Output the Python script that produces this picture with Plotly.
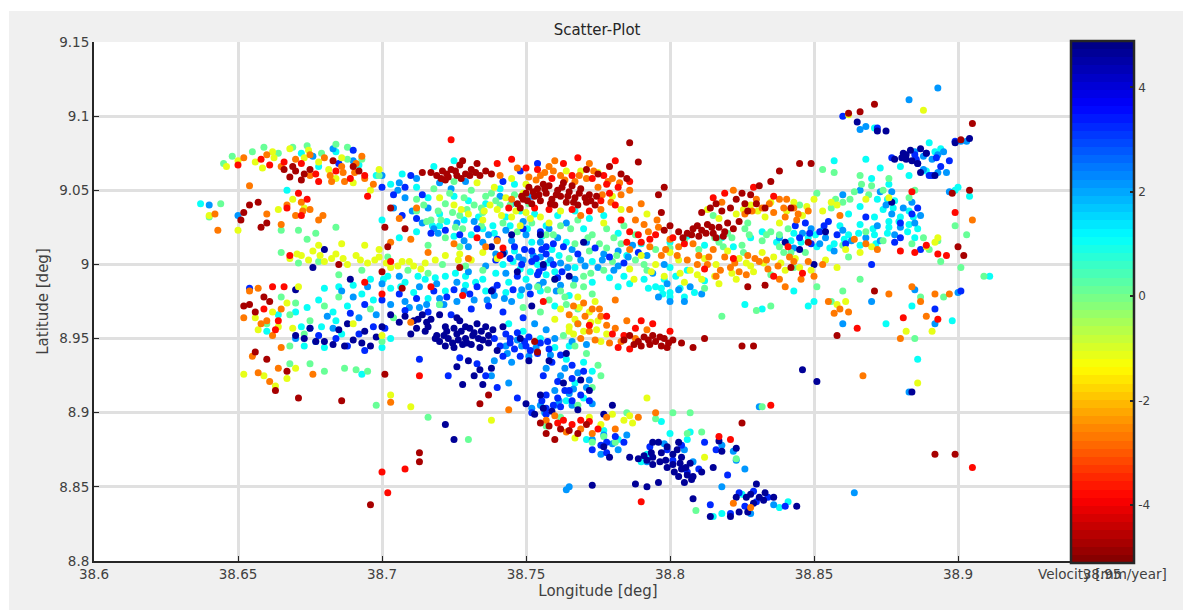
import plotly.graph_objects as go

title_text = "Scatter-Plot"
x_label = "Longitude [deg]"
y_label = "Latitude [deg]"
cbar_label = "Velocity [mm/year]"
x_ticks = [38.6, 38.65, 38.7, 38.75, 38.8, 38.85, 38.9, 38.95]
x_tick_labels = ["38.6", "38.65", "38.7", "38.75", "38.8", "38.85", "38.9", "38.95"]
y_ticks = [8.8, 8.85, 8.9, 8.95, 9.0, 9.05, 9.1, 9.15]
y_tick_labels = ["8.8", "8.85", "8.9", "8.95", "9", "9.05", "9.1", "9.15"]
cbar_ticks = [-4, -2, 0, 2, 4]

dark_red = [
(38.719,9.060),(38.721,9.063),(38.723,9.059),(38.724,9.064),(38.726,9.060),(38.727,9.067),(38.729,9.061),(38.731,9.064),(38.733,9.068),(38.734,9.060),(38.736,9.063),(38.738,9.061),(38.728,9.070),(38.722,9.057),(38.717,9.062),
(38.747,9.041),(38.749,9.044),(38.750,9.048),(38.752,9.041),(38.753,9.046),(38.754,9.051),(38.755,9.043),(38.757,9.048),(38.758,9.053),(38.759,9.044),(38.760,9.040),(38.761,9.050),(38.762,9.046),(38.763,9.055),(38.764,9.042),(38.765,9.049),(38.766,9.053),(38.767,9.045),(38.768,9.040),(38.769,9.051),(38.771,9.042),(38.772,9.047),(38.774,9.040),(38.756,9.054),(38.748,9.038),(38.751,9.052),(38.775,9.061),(38.771,9.064),(38.779,9.066),(38.783,9.061),(38.785,9.058),
(38.668,9.059),(38.670,9.063),(38.672,9.057),(38.673,9.061),(38.669,9.066),(38.675,9.064),(38.666,9.064),(38.683,9.070),(38.690,9.066),(38.692,9.063),
(38.806,9.021),(38.808,9.024),(38.810,9.019),(38.811,9.023),(38.813,9.027),(38.815,9.021),(38.816,9.018),(38.817,9.025),(38.819,9.022),(38.820,9.028),(38.803,9.022),(38.800,9.026),(38.798,9.023),(38.822,9.024),(38.824,9.029),
(38.811,9.035),(38.814,9.038),(38.816,9.041),(38.818,9.036),(38.821,9.038),(38.823,9.044),(38.826,9.041),(38.828,9.047),(38.830,9.041),(38.825,9.048),(38.827,9.036),(38.833,9.038),(38.831,9.053),(38.835,9.056),
(38.784,8.949),(38.786,8.952),(38.789,8.948),(38.790,8.945),(38.791,8.951),(38.793,8.946),(38.794,8.952),(38.795,8.948),(38.797,8.945),(38.798,8.950),(38.799,8.944),(38.801,8.949),(38.804,8.947),(38.808,8.944),(38.812,8.950),(38.825,8.945),(38.829,8.945),
(38.786,9.082),(38.789,9.069),(38.798,9.052),(38.796,9.047),(38.797,9.035),(38.838,9.063),(38.845,9.068),(38.849,9.068),(38.862,9.102),(38.866,9.103),(38.871,9.108),(38.905,9.095),(38.901,9.084),(38.904,9.050),(38.898,9.048),(38.900,9.012),(38.902,9.006),
(38.765,8.888),(38.762,8.889),(38.758,8.891),(38.755,8.893),(38.757,8.886),(38.760,8.882),(38.768,8.886),(38.771,8.892),(38.696,8.838),(38.713,8.873),(38.713,8.867),(38.737,8.912),(38.734,8.906),(38.753,8.948),(38.754,8.941),
(38.656,8.968),(38.654,8.973),(38.652,8.972),(38.659,8.978),(38.661,8.975),(38.651,9.030),(38.652,9.035),(38.657,9.042),(38.660,9.028),(38.658,9.025),(38.654,9.040),(38.656,8.941),(38.660,8.936),(38.663,8.915),(38.671,8.910),(38.686,8.908),(38.667,8.928),
(38.702,9.012),(38.708,9.024),(38.714,9.062),(38.703,9.038),(38.701,9.025),(38.685,9.000),(38.700,8.995),(38.707,8.984),(38.727,8.998),(38.701,8.926),(38.825,8.893),(38.899,8.872),(38.892,8.872),(38.842,9.038),(38.871,8.982),(38.858,8.952),(38.842,8.998),(38.833,8.986),(38.827,8.985),(38.848,9.015),
(38.7485,9.046),(38.7505,9.043),(38.7525,9.049),(38.7545,9.047),(38.7565,9.051),(38.7585,9.041),(38.7605,9.047),(38.7625,9.052),(38.7645,9.046),(38.7665,9.042),(38.7685,9.048),(38.7705,9.045),(38.7725,9.043),(38.7745,9.046),(38.7205,9.058),(38.7225,9.061),(38.7255,9.063),(38.7275,9.058),(38.7305,9.060),(38.7325,9.062),(38.8045,9.018),(38.8075,9.020),(38.8095,9.026),(38.8125,9.021),(38.8145,9.025),(38.8185,9.019),(38.7875,8.946),(38.7925,8.949),(38.7965,8.951),(38.7995,8.947),
]
red = [
(38.724,9.084),(38.695,9.046),(38.703,9.002),(38.668,9.006),(38.700,8.860),(38.708,8.862),(38.713,8.925),(38.702,8.846),(38.790,8.840),(38.865,8.957),(38.881,8.964),(38.893,8.963),(38.885,9.008),(38.880,9.009),(38.889,9.013),(38.893,9.007),(38.896,9.006),(38.884,9.049),(38.905,8.863),(38.899,9.035),
(38.740,9.068),(38.745,9.071),(38.750,9.065),(38.754,9.064),(38.759,9.058),(38.763,9.068),(38.768,9.072),(38.773,9.058),(38.778,9.054),(38.781,9.070),(38.786,9.056),(38.777,9.060),(38.766,9.060),(38.782,9.052),
(38.744,9.038),(38.753,9.038),(38.758,9.037),(38.766,9.037),(38.772,9.036),(38.776,9.043),(38.779,9.048),(38.781,9.040),
(38.658,9.071),(38.661,9.067),(38.666,9.069),(38.672,9.068),(38.677,9.061),(38.684,9.063),(38.689,9.058),(38.694,9.060),(38.678,9.056),(38.650,9.067),
(38.671,9.048),(38.674,9.044),(38.667,9.038),(38.672,9.033),(38.662,8.985),(38.659,8.970),(38.664,8.962),(38.663,8.956),(38.666,8.985),
(38.733,9.018),(38.742,9.011),(38.741,9.006),(38.694,8.988),(38.700,8.980),(38.717,8.985),(38.728,8.979),
(38.795,9.020),(38.793,9.017),(38.789,9.020),(38.786,9.022),(38.783,9.030),(38.790,9.015),(38.801,9.018),(38.785,9.015),(38.805,9.014),(38.812,8.997),(38.822,9.004),(38.815,9.045),(38.819,9.048),(38.829,9.052),(38.836,9.046),(38.841,9.012),(38.846,8.994),(38.836,8.992),
(38.763,8.895),(38.766,8.892),(38.769,8.895),(38.761,8.893),(38.772,8.894),(38.775,8.889),(38.784,8.952),(38.782,8.944),(38.788,8.957),(38.780,8.953),(38.786,8.943),(38.794,8.960),(38.800,8.955),(38.790,8.962),(38.772,8.959),(38.778,8.965),(38.756,8.975),(38.835,8.905),(38.821,8.882),(38.817,8.884),
]
orange = [
(38.652,9.072),(38.660,9.074),(38.665,9.066),(38.670,9.071),(38.675,9.074),(38.680,9.072),(38.686,9.066),(38.691,9.068),(38.694,9.058),(38.687,9.056),(38.682,9.060),(38.693,9.073),(38.675,9.060),(38.697,9.054),
(38.667,9.040),(38.672,9.042),(38.675,9.037),(38.670,9.033),(38.678,9.030),(38.665,9.027),(38.642,9.034),(38.643,9.023),(38.654,9.053),(38.660,9.034),(38.703,9.015),(38.710,9.017),(38.716,9.008),(38.725,9.014),(38.730,9.004),(38.736,9.012),(38.740,9.016),(38.706,9.031),(38.712,9.038),
(38.654,8.982),(38.657,8.984),(38.660,8.962),(38.665,8.970),(38.658,8.960),(38.662,8.952),(38.655,8.938),(38.657,8.927),(38.661,8.921),(38.664,8.930),(38.652,8.964),(38.665,8.944),(38.676,8.926),(38.710,8.961),(38.703,8.907),(38.744,8.902),
(38.745,9.044),(38.751,9.059),(38.755,9.060),(38.758,9.066),(38.762,9.060),(38.767,9.056),(38.771,9.058),(38.775,9.052),(38.780,9.058),(38.783,9.047),(38.786,9.050),(38.760,9.070),(38.747,9.065),(38.741,9.060),(38.772,9.068),(38.786,9.037),(38.790,9.041),(38.788,9.030),(38.776,9.037),(38.769,9.033),
(38.770,8.974),(38.773,8.970),(38.776,8.965),(38.765,8.966),(38.768,8.960),(38.772,8.955),(38.778,8.959),(38.774,8.949),(38.769,8.950),(38.781,8.976),
(38.783,8.948),(38.788,8.950),(38.781,8.957),(38.785,8.962),(38.779,8.947),(38.792,8.956),
(38.791,9.027),(38.796,9.025),(38.800,9.017),(38.793,9.012),(38.797,9.006),(38.786,9.010),(38.803,9.012),(38.808,9.014),(38.806,9.003),(38.810,9.006),(38.813,9.000),(38.816,8.992),(38.819,9.005),(38.821,8.998),(38.824,8.995),(38.815,9.010),(38.827,9.006),(38.831,9.002),(38.834,8.997),(38.838,8.990),(38.843,9.002),(38.848,9.002),(38.850,8.992),(38.853,9.000),(38.830,9.044),(38.826,9.034),(38.832,9.038),(38.836,9.035),(38.840,9.032),(38.844,9.030),(38.838,9.044),(38.843,9.038),(38.848,9.036),(38.822,9.050),(38.818,9.042),(38.859,9.033),(38.864,9.017),(38.868,9.014),(38.872,9.010),
(38.760,8.898),(38.764,8.887),(38.769,8.889),(38.773,8.886),(38.778,8.897),(38.781,8.889),(38.757,8.895),(38.789,8.897),(38.840,8.985),(38.855,8.975),(38.859,8.970),(38.862,8.968),(38.857,8.967),(38.876,8.980),(38.880,8.950),(38.884,8.985),(38.887,8.975),(38.892,8.980),(38.889,8.965),(38.905,9.030),(38.897,8.980),(38.867,8.925),(38.828,8.836),(38.822,8.839),(38.795,8.900),
(38.7535,9.057),(38.7565,9.062),(38.7595,9.063),(38.7635,9.057),(38.7685,9.060),(38.7735,9.063),(38.7785,9.056),(38.7825,9.055),(38.7765,9.047),(38.7795,9.042),(38.8095,9.000),(38.8135,9.005),(38.8175,8.996),(38.8225,9.001),(38.8265,8.993),(38.8295,9.004),(38.8335,9.003),(38.8375,8.999),(38.8415,9.005),(38.8455,8.990),(38.8285,9.036),(38.8345,9.041),(38.8395,9.038),(38.8445,9.034),(38.8405,9.044),(38.7925,9.022),(38.7955,9.030),(38.7985,9.010),(38.8025,9.006),(38.7755,8.970),(38.7705,8.965),(38.7665,8.972),(38.6825,9.056),(38.6865,9.062),(38.6905,9.062),(38.6725,9.036),(38.6795,9.033),
]
yellow = [
(38.650,9.070),(38.656,9.069),(38.662,9.076),(38.668,9.078),(38.673,9.072),(38.678,9.069),(38.684,9.058),(38.690,9.055),(38.696,9.050),(38.699,9.064),(38.686,9.072),(38.646,9.066),(38.640,9.033),(38.650,9.023),(38.673,9.038),(38.669,9.044),(38.664,9.037),
(38.668,9.004),(38.672,9.006),(38.676,9.009),(38.680,9.002),(38.684,9.007),(38.688,9.000),(38.691,9.006),(38.695,9.001),(38.699,9.005),(38.703,8.998),(38.707,9.002),(38.711,8.999),(38.715,9.001),(38.722,9.006),(38.727,9.007),(38.731,9.003),(38.735,9.008),(38.740,9.004),(38.694,9.013),(38.699,9.010),(38.678,9.013),(38.686,9.014),
(38.656,8.964),(38.662,8.968),(38.667,8.974),(38.664,8.958),(38.669,8.957),(38.657,8.956),(38.652,8.926),(38.659,8.925),(38.663,8.918),(38.667,8.923),(38.670,8.930),(38.690,8.960),(38.700,8.952),(38.703,8.912),(38.710,8.904),(38.738,8.895),(38.671,8.985),
(38.735,9.030),(38.740,9.037),(38.745,9.032),(38.750,9.035),(38.755,9.032),(38.748,9.026),(38.758,9.028),(38.762,9.036),(38.743,9.045),(38.749,9.048),(38.725,9.040),(38.730,9.034),(38.720,9.045),(38.764,9.063),(38.775,9.062),(38.769,9.063),(38.745,9.058),(38.750,9.054),(38.739,9.052),(38.733,9.055),(38.780,9.046),(38.783,9.037),(38.777,9.028),(38.792,9.034),
(38.768,8.978),(38.772,8.968),(38.775,8.962),(38.767,8.963),(38.770,8.955),(38.765,8.958),(38.778,8.953),(38.762,8.970),(38.774,8.975),(38.760,8.963),(38.776,8.948),
(38.786,8.997),(38.790,9.006),(38.795,9.000),(38.800,9.008),(38.803,9.003),(38.807,8.996),(38.812,9.004),(38.816,9.000),(38.820,9.009),(38.824,9.004),(38.828,8.999),(38.832,9.008),(38.836,9.005),(38.840,8.996),(38.845,8.998),(38.849,8.996),(38.854,9.003),(38.858,8.998),(38.805,8.988),(38.811,8.990),(38.817,8.987),(38.823,8.990),(38.829,8.995),(38.798,8.992),
(38.823,9.034),(38.828,9.040),(38.833,9.032),(38.838,9.028),(38.843,9.042),(38.846,9.033),(38.850,9.044),(38.853,9.036),(38.835,9.042),(38.817,9.031),(38.813,9.037),(38.856,9.042),(38.861,9.010),(38.866,9.008),(38.870,9.012),(38.858,9.040),(38.858,8.973),(38.861,8.975),
(38.772,8.897),(38.776,8.892),(38.780,8.899),(38.784,8.895),(38.787,8.893),(38.786,8.898),(38.767,8.883),(38.812,8.870),(38.765,8.955),(38.792,8.910),(38.886,8.920),(38.882,8.955),(38.891,8.955),(38.888,9.104),(38.889,9.012),(38.893,9.018),(38.892,9.015),(38.876,9.045),(38.862,9.101),(38.868,9.044),
(38.6705,9.007),(38.6745,9.003),(38.6785,9.006),(38.6825,9.004),(38.6865,9.004),(38.6925,9.003),(38.6975,9.003),(38.7015,9.001),(38.7055,8.999),(38.7095,9.002),(38.7135,8.997),(38.7185,9.003),(38.7265,9.003),(38.7355,9.036),(38.7415,9.033),(38.7465,9.036),(38.7515,9.031),(38.7375,9.040),(38.7275,9.037),(38.8035,8.994),(38.8095,8.993),(38.8155,8.992),(38.8215,8.994),(38.8265,9.001),(38.8325,9.001),(38.8385,9.001),(38.8435,9.004),(38.8255,9.037),(38.8305,9.036),(38.8405,9.036),(38.8475,9.039),(38.7685,8.971),(38.7725,8.961),(38.7665,8.953),(38.7745,8.956),(38.7875,8.990),(38.7935,8.995),(38.6585,9.065),(38.6625,9.072),(38.6745,9.077),(38.6815,9.064),
]
green = [
(38.655,9.076),(38.659,9.079),(38.664,9.075),(38.669,9.079),(38.674,9.080),(38.679,9.075),(38.684,9.081),(38.688,9.079),(38.693,9.071),(38.699,9.060),(38.645,9.068),(38.648,9.073),(38.688,9.071),(38.640,9.032),(38.644,9.041),
(38.665,9.023),(38.671,9.023),(38.677,9.021),(38.684,9.025),(38.674,9.017),(38.665,9.008),(38.671,9.001),(38.678,9.002),(38.685,8.993),(38.693,8.996),(38.702,9.005),(38.709,8.996),(38.716,8.994),(38.721,9.000),(38.729,8.999),(38.735,8.996),(38.727,9.012),(38.716,9.013),
(38.665,8.978),(38.670,8.974),(38.668,8.966),(38.675,8.962),(38.680,8.972),(38.685,8.978),(38.673,8.953),(38.668,8.945),(38.687,8.930),(38.695,8.928),(38.691,8.929),(38.680,8.928),(38.660,8.960),(38.700,8.948),(38.668,8.933),(38.675,8.933),(38.696,8.970),(38.720,8.973),(38.704,8.964),
(38.712,9.036),(38.717,9.030),(38.722,9.041),(38.727,9.033),(38.732,9.040),(38.736,9.046),(38.741,9.040),(38.746,9.047),(38.751,9.041),(38.735,9.035),(38.742,9.028),(38.747,9.022),(38.752,9.028),(38.757,9.020),(38.762,9.026),(38.768,9.030),(38.712,9.044),(38.718,9.051),(38.725,9.056),(38.731,9.050),(38.738,9.048),(38.728,9.024),(38.722,9.018),(38.767,9.014),(38.773,9.020),(38.778,9.011),(38.783,9.014),(38.788,9.020),(38.778,9.024),(38.784,9.026),(38.772,9.009),(38.765,9.004),(38.780,9.002),(38.788,9.003),(38.792,8.996),(38.777,8.996),(38.770,8.992),(38.760,8.990),(38.754,8.985),(38.762,8.982),(38.770,8.985),(38.758,8.976),(38.764,8.973),(38.755,8.968),(38.749,8.971),(38.768,8.970),(38.773,8.980),
(38.763,8.952),(38.767,8.945),(38.771,8.940),(38.775,8.932),(38.776,8.925),(38.773,8.917),(38.768,8.905),(38.762,8.897),(38.785,8.900),(38.795,8.896),(38.801,8.900),(38.807,8.900),(38.773,8.880),(38.809,8.834),
(38.800,9.011),(38.805,9.016),(38.810,9.010),(38.817,9.015),(38.825,9.013),(38.832,9.016),(38.838,9.012),(38.842,9.008),(38.847,9.008),(38.835,9.022),(38.826,9.024),(38.820,9.021),(38.841,9.024),(38.838,9.020),(38.845,9.040),(38.851,9.048),(38.856,9.038),(38.860,9.042),(38.864,9.049),(38.869,9.047),(38.874,9.050),(38.827,9.028),(38.815,9.033),(38.870,9.053),(38.857,9.062),(38.853,9.064),(38.866,9.060),(38.876,9.058),(38.885,9.050),(38.860,9.013),(38.868,9.022),(38.874,9.016),(38.862,9.005),(38.856,8.975),(38.851,8.985),(38.860,8.982),(38.866,8.990),(38.835,8.972),(38.830,8.969),(38.818,8.965),(38.835,8.993),(38.812,8.984),(38.795,9.010),(38.791,9.000),
(38.884,9.014),(38.888,9.018),(38.890,9.010),(38.893,9.016),(38.899,9.026),(38.903,9.020),(38.909,8.992),(38.901,8.998),(38.887,8.978),(38.895,8.978),(38.885,8.950),(38.894,9.002),(38.843,8.998),(38.832,8.904),(38.811,8.887),(38.806,8.886),(38.823,8.869),(38.781,8.880),(38.777,8.884),(38.698,8.905),(38.716,8.897),(38.757,8.891),(38.730,8.882),(38.883,9.045),
(38.7145,9.040),(38.7195,9.036),(38.7245,9.035),(38.7295,9.037),(38.7345,9.038),(38.7395,9.043),(38.7445,9.040),(38.7495,9.045),(38.7235,9.048),(38.7285,9.045),(38.7155,9.029),(38.7205,9.030),(38.7255,9.025),(38.7345,9.026),(38.7595,9.020),(38.7655,9.024),(38.7715,9.018),(38.7755,9.014),(38.7805,9.018),(38.7815,9.006),(38.7725,8.994),(38.7665,8.986),(38.7635,8.978),(38.7575,8.983),(38.8155,9.018),(38.8215,9.018),(38.8275,9.020),(38.8335,9.020),(38.8395,9.008),(38.8255,9.008),(38.8185,9.012),(38.8575,9.044),(38.8625,9.044),(38.8665,9.054),
]
cyan = [
(38.637,9.041),(38.667,9.050),(38.672,9.075),(38.678,9.066),(38.684,9.076),(38.692,9.067),(38.698,9.060),(38.703,9.054),(38.707,9.061),(38.718,9.066),(38.725,9.070),
(38.700,9.030),(38.706,9.018),(38.712,9.022),(38.720,9.026),(38.725,9.019),(38.731,9.020),(38.712,9.052),(38.716,9.045),(38.720,9.034),(38.725,9.046),(38.730,9.043),(38.736,9.041),(38.741,9.051),(38.746,9.054),(38.743,9.032),(38.748,9.036),(38.753,9.034),(38.757,9.026),(38.761,9.033),(38.767,9.036),(38.772,9.031),(38.777,9.033),(38.782,9.021),(38.785,9.006),(38.790,9.014),(38.770,9.024),(38.764,9.015),(38.759,9.010),(38.752,9.015),(38.746,9.009),(38.739,9.021),(38.735,9.024),(38.742,9.000),(38.748,8.997),(38.754,9.000),(38.760,8.995),(38.767,8.998),(38.773,9.002),(38.779,8.991),(38.784,8.992),(38.744,8.988),(38.750,8.990),(38.757,8.993),(38.735,8.990),(38.729,8.992),(38.722,8.992),(38.715,8.990),(38.708,8.988),(38.702,8.992),(38.696,8.990),(38.690,8.986),(38.685,8.985),(38.680,8.984),(38.678,8.976),(38.683,8.968),(38.688,8.972),(38.693,8.980),(38.697,8.976),(38.703,8.984),(38.711,8.981),(38.716,8.977),(38.722,8.982),(38.729,8.986),(38.736,8.982),(38.743,8.981),(38.748,8.979),(38.755,8.982),(38.760,8.972),(38.765,8.979),(38.773,8.988),
(38.670,8.968),(38.674,8.971),(38.679,8.958),(38.684,8.962),(38.673,8.945),(38.680,8.944),(38.686,8.953),(38.664,8.966),(38.660,8.955),(38.672,8.958),(38.700,8.944),(38.703,8.950),(38.693,8.926),(38.720,8.973),
(38.744,8.960),(38.749,8.955),(38.755,8.950),(38.760,8.944),(38.764,8.936),(38.770,8.934),(38.773,8.928),(38.767,8.920),(38.770,8.910),(38.764,8.908),(38.777,8.888),(38.782,8.882),(38.771,8.882),(38.807,8.887),(38.806,8.882),(38.792,8.872),(38.800,8.886),(38.815,8.830),(38.818,8.832),(38.838,8.836),(38.841,8.840),(38.797,8.894),(38.790,8.867),(38.825,8.845),
(38.782,8.985),(38.786,8.987),(38.791,8.990),(38.798,8.990),(38.802,8.992),(38.806,8.996),(38.797,8.984),(38.800,8.981),(38.805,8.978),(38.812,8.989),(38.800,8.998),(38.795,8.985),
(38.800,9.015),(38.806,9.019),(38.812,9.013),(38.818,9.018),(38.822,9.012),(38.828,9.018),(38.832,9.022),(38.837,9.015),(38.843,9.021),(38.848,9.018),(38.853,9.023),(38.857,9.014),(38.862,9.020),(38.866,9.027),(38.871,9.020),(38.876,9.025),(38.880,9.032),(38.874,9.037),(38.878,9.043),(38.883,9.027),(38.886,9.024),(38.871,9.032),(38.866,9.013),(38.859,9.026),(38.851,9.012),(38.842,9.016),(38.862,9.034),(38.866,9.039),(38.872,9.044),(38.876,9.029),(38.883,9.036),(38.885,9.018),
(38.857,9.070),(38.868,9.071),(38.873,9.065),(38.880,9.066),(38.870,9.058),(38.876,9.054),(38.883,9.060),(38.889,9.063),(38.894,9.078),(38.890,9.082),(38.892,9.076),(38.900,9.052),(38.871,9.092),(38.899,9.050),(38.904,9.046),(38.911,8.992),(38.884,8.972),(38.898,8.962),(38.886,8.936),(38.843,8.982),(38.850,8.975),(38.875,8.960),(38.848,8.972),(38.826,8.973),(38.832,8.970),(38.768,8.960),(38.765,8.945),(38.800,8.978),
(38.7175,9.026),(38.7225,9.029),(38.7285,9.030),(38.7335,9.032),(38.7385,9.026),(38.7445,9.026),(38.7505,9.024),(38.7555,9.019),(38.7615,9.006),(38.7575,9.001),(38.7515,8.995),(38.7455,9.002),(38.7395,8.994),(38.7325,8.988),(38.7255,8.994),(38.7185,8.991),(38.7125,8.992),(38.7065,8.985),(38.7005,8.990),(38.8455,9.015),(38.8505,9.020),(38.8555,9.011),(38.8605,9.017),(38.8655,9.021),(38.8705,9.024),(38.8755,9.021),(38.8795,9.029),(38.8825,9.022),(38.8715,9.014),(38.8845,9.032),(38.8775,9.038),(38.8755,9.044),(38.8035,8.984),(38.8085,8.981),(38.7975,8.980),(38.7925,8.984),
]
sky = [
(38.683,9.078),(38.690,9.070),(38.676,9.073),(38.640,9.040),(38.650,9.033),(38.700,9.060),(38.706,9.055),(38.712,9.058),(38.708,9.045),(38.704,9.038),(38.716,9.038),(38.720,9.055),(38.724,9.051),(38.729,9.056),(38.714,9.028),(38.718,9.024),(38.726,9.028),(38.732,9.029),(38.737,9.020),(38.743,9.023),(38.749,9.029),(38.745,9.016),(38.750,9.020),(38.755,9.015),(38.761,9.018),(38.766,9.010),(38.771,9.015),(38.777,9.007),(38.782,9.009),(38.787,9.013),(38.792,9.006),(38.782,8.999),(38.775,8.998),(38.769,9.003),(38.762,9.001),(38.755,9.005),(38.749,9.003),(38.743,8.994),(38.736,8.999),(38.730,8.995),(38.726,8.988),(38.719,8.987),(38.713,8.985),(38.706,8.992),(38.700,8.987),(38.695,8.985),(38.690,8.978),(38.686,8.982),(38.681,8.965),(38.675,8.957),(38.670,8.950),(38.677,8.948),(38.683,8.957),(38.692,8.964),(38.698,8.966),(38.703,8.973),(38.708,8.975),(38.713,8.971),(38.720,8.977),(38.726,8.975),(38.732,8.976),(38.739,8.979),(38.745,8.975),(38.751,8.985),(38.756,8.988),(38.762,8.986),(38.767,8.990),(38.745,9.041),(38.752,9.046),(38.741,9.046),(38.758,9.024),(38.764,9.028),(38.735,9.015),(38.730,9.012),
(38.753,8.960),(38.747,8.949),(38.743,8.945),(38.739,8.935),(38.745,8.934),(38.751,8.938),(38.757,8.956),(38.760,8.950),(38.766,8.948),(38.771,8.946),(38.757,8.930),(38.762,8.925),(38.768,8.927),(38.772,8.922),(38.760,8.915),(38.765,8.913),(38.771,8.917),(38.755,8.905),(38.760,8.905),(38.766,8.905),(38.773,8.906),(38.752,8.903),(38.773,8.882),(38.780,8.879),(38.776,8.872),(38.785,8.885),(38.765,8.850),(38.764,8.848),(38.792,8.867),(38.798,8.879),(38.777,8.885),(38.782,8.875),(38.744,8.920),(38.738,8.925),
(38.805,8.875),(38.808,8.867),(38.822,8.874),(38.823,8.868),(38.818,8.878),(38.826,8.862),(38.818,8.850),(38.828,8.832),(38.836,8.838),(38.831,8.904),(38.864,8.846),(38.883,8.914),(38.885,8.983),(38.892,8.960),(38.900,8.981),
(38.794,8.994),(38.799,8.987),(38.803,8.983),(38.807,8.985),(38.811,8.980),(38.805,8.975),(38.800,8.975),(38.796,8.978),(38.798,9.000),(38.838,9.018),(38.843,9.011),(38.849,9.024),(38.854,9.018),(38.860,9.023),(38.846,9.021),(38.852,9.014),(38.857,9.009),(38.863,9.016),(38.868,9.018),(38.873,9.016),(38.878,9.020),(38.880,9.025),(38.885,9.028),(38.887,9.033),(38.881,9.038),(38.875,9.040),(38.872,9.026),(38.877,9.034),(38.884,9.042),(38.873,9.049),(38.877,9.049),(38.860,9.047),(38.866,9.050),
(38.885,9.076),(38.888,9.073),(38.891,9.071),(38.893,9.074),(38.895,9.076),(38.888,9.064),(38.893,9.062),(38.896,9.062),(38.901,9.083),(38.893,9.119),(38.883,9.111),(38.866,9.091),(38.868,9.093),(38.897,9.049),(38.903,9.083),(38.870,8.975),(38.860,8.960),
(38.7425,9.008),(38.7475,9.005),(38.7525,9.006),(38.7585,9.003),(38.7645,8.998),(38.7705,8.999),(38.7765,9.003),(38.7805,8.996),(38.7855,9.005),(38.7395,9.007),(38.7485,8.983),(38.7545,8.986),(38.7605,8.982),(38.7425,8.977),(38.7365,8.976),(38.7285,8.982),(38.7215,8.973),(38.7155,8.973),(38.7095,8.971),(38.7435,8.940),(38.7485,8.945),(38.7535,8.944),(38.7585,8.939),(38.7635,8.930),(38.7665,8.916),(38.7615,8.908),(38.7565,8.900),(38.7055,9.050),(38.7105,9.036),(38.7195,9.021),(38.7285,9.016),
]
blue = [
(38.654,8.984),(38.690,9.077),(38.685,9.068),(38.700,9.052),(38.704,9.047),(38.708,9.052),(38.710,9.060),(38.714,9.047),(38.707,9.033),(38.712,9.031),(38.717,9.021),(38.722,9.023),(38.727,9.020),(38.733,9.024),(38.740,9.017),(38.746,9.012),(38.752,9.009),(38.757,9.007),(38.763,9.012),(38.768,9.007),(38.774,9.011),(38.779,9.005),(38.784,9.001),(38.789,9.008),(38.756,8.998),(38.761,8.991),(38.747,8.992),(38.740,8.986),(38.733,8.985),(38.725,8.983),(38.718,8.982),(38.712,8.977),(38.706,8.980),(38.700,8.976),(38.694,8.973),(38.689,8.967),(38.684,8.950),(38.678,8.952),(38.688,8.945),(38.692,8.953),(38.697,8.958),(38.694,8.942),(38.701,8.957),(38.708,8.969),(38.716,8.968),(38.724,8.966),(38.731,8.970),(38.737,8.972),(38.742,8.968),(38.749,8.964),(38.754,8.993),(38.752,9.002),(38.757,9.012),(38.749,9.024),(38.755,9.022),(38.742,9.056),(38.748,9.063),(38.754,9.068),
(38.739,8.950),(38.743,8.953),(38.747,8.954),(38.751,8.951),(38.755,8.947),(38.741,8.945),(38.746,8.943),(38.750,8.945),(38.754,8.940),(38.758,8.943),(38.762,8.939),(38.742,8.938),(38.748,8.938),(38.759,8.934),(38.766,8.932),(38.770,8.928),(38.756,8.925),(38.761,8.921),(38.766,8.923),(38.757,8.912),(38.761,8.910),(38.765,8.915),(38.769,8.912),(38.772,8.908),(38.752,8.900),(38.757,8.903),(38.762,8.904),(38.757,8.899),(38.766,8.908),(38.713,8.936),(38.723,8.925),(38.727,8.937),(38.733,8.933),(38.736,8.925),(38.740,8.917),(38.747,8.910),
(38.778,8.880),(38.781,8.884),(38.784,8.880),(38.776,8.878),(38.773,8.875),(38.778,8.873),(38.793,8.877),(38.799,8.875),(38.804,8.878),(38.812,8.880),(38.816,8.875),(38.801,8.868),(38.806,8.860),(38.810,8.862),(38.820,8.858),(38.830,8.840),(38.826,8.837),(38.834,8.843),(38.824,8.846),(38.821,8.832),(38.840,8.837),(38.829,8.847),(38.814,8.838),
(38.847,9.028),(38.852,9.022),(38.858,9.020),(38.855,9.029),(38.849,9.014),(38.845,9.018),(38.861,9.014),(38.884,9.034),(38.880,9.028),(38.878,9.015),(38.868,9.032),(38.886,9.038),(38.880,9.018),(38.885,9.074),(38.889,9.075),(38.886,9.068),(38.890,9.060),(38.894,9.066),(38.891,9.060),(38.897,9.070),(38.899,9.083),(38.872,9.092),(38.887,9.010),(38.870,9.000),(38.901,8.982),(38.892,8.970),(38.877,9.072),(38.860,9.100),
(38.7485,9.000),(38.7535,9.004),(38.7595,9.000),(38.7625,8.995),(38.7545,8.995),(38.7495,9.010),(38.7555,9.010),(38.7595,9.014),(38.7445,9.004),(38.7395,9.003),(38.7455,8.983),(38.7515,8.980),(38.7385,8.983),(38.7305,8.980),(38.7225,8.978),(38.7445,8.950),(38.7495,8.948),(38.7515,8.942),(38.7445,8.947),(38.7575,8.948),(38.7635,8.915),(38.7595,8.905),(38.7555,8.908),(38.8485,9.021),(38.8535,9.026),(38.8435,9.026),(38.8855,9.071),(38.8925,9.072),
]
navy = [
(38.708,8.965),(38.711,8.962),(38.714,8.966),(38.717,8.963),(38.720,8.966),(38.712,8.957),(38.715,8.955),(38.710,8.953),(38.706,8.961),(38.703,8.966),(38.726,8.964),(38.722,8.958),(38.719,8.952),(38.723,8.950),(38.726,8.953),(38.729,8.950),(38.732,8.954),(38.735,8.949),(38.722,8.945),(38.725,8.944),(38.728,8.946),(38.731,8.946),(38.734,8.944),(38.737,8.952),(38.729,8.958),(38.725,8.957),(38.733,8.960),(38.736,8.958),(38.727,8.962),(38.740,8.942),(38.737,8.947),(38.742,8.958),(38.720,8.948),(38.716,8.958),
(38.670,8.952),(38.673,8.950),(38.677,8.948),(38.680,8.948),(38.683,8.946),(38.687,8.945),(38.690,8.949),(38.693,8.947),(38.696,8.945),(38.698,8.951),(38.685,8.956),(38.688,8.960),(38.694,8.955),(38.670,8.983),(38.676,8.998),(38.680,9.010),(38.689,8.990),(38.675,8.957),(38.700,8.958),
(38.730,8.935),(38.734,8.929),(38.732,8.925),(38.735,8.919),(38.728,8.919),(38.726,8.931),(38.738,8.930),(38.725,8.882),(38.722,8.892),(38.738,8.982),(38.760,8.990),(38.752,8.972),(38.747,8.995),(38.742,9.007),(38.738,9.012),(38.765,8.992),(38.756,9.000),(38.770,9.015),(38.745,9.020),(38.755,9.020),
(38.755,8.912),(38.750,8.906),(38.753,8.899),(38.756,8.903),(38.759,8.901),(38.763,8.920),(38.758,8.935),(38.764,8.940),(38.769,8.922),(38.772,8.915),(38.777,8.899),(38.780,8.905),(38.748,8.950),(38.751,8.935),(38.768,8.902),
(38.777,8.877),(38.779,8.870),(38.786,8.870),(38.789,8.869),(38.792,8.868),(38.794,8.870),(38.797,8.873),(38.794,8.865),(38.791,8.871),(38.799,8.877),(38.803,8.880),(38.796,8.880),(38.801,8.865),(38.804,8.862),(38.807,8.866),(38.799,8.863),(38.804,8.870),(38.801,8.872),(38.806,8.858),(38.808,8.857),(38.811,8.860),(38.803,8.857),(38.805,8.853),(38.796,8.853),(38.792,8.850),(38.788,8.852),(38.815,8.863),(38.818,8.874),(38.808,8.842),(38.814,8.830),(38.773,8.851),(38.794,8.880),
(38.828,8.845),(38.831,8.843),(38.833,8.846),(38.836,8.843),(38.829,8.839),(38.823,8.843),(38.824,8.833),(38.827,8.833),(38.821,8.830),(38.844,8.837),(38.823,8.876),(38.830,8.852),(38.817,8.881),(38.846,8.929),(38.851,8.921),(38.884,8.914),(38.854,9.022),(38.850,9.000),
(38.878,9.071),(38.882,9.074),(38.884,9.070),(38.887,9.078),(38.889,9.075),(38.886,9.068),(38.881,9.075),(38.887,9.062),(38.892,9.060),(38.899,9.082),(38.904,9.085),(38.865,9.096),(38.872,9.090),(38.875,9.090),(38.882,9.071),(38.845,9.010),(38.840,9.015),(38.877,9.042),
(38.7215,8.952),(38.7245,8.947),(38.7265,8.949),(38.7295,8.947),(38.7315,8.952),(38.7335,8.950),(38.7225,8.955),(38.7275,8.955),(38.7305,8.957),(38.7345,8.955),(38.7185,8.950),(38.7385,8.956),(38.7125,8.963),(38.7155,8.961),(38.7985,8.868),(38.8015,8.860),(38.8035,8.866),(38.8055,8.863),(38.8075,8.855),(38.8025,8.875),(38.7965,8.867),(38.7935,8.873),(38.8805,9.072),(38.8835,9.077),(38.8265,8.843),(38.8325,8.841),
]

class_values = [-4.7, -3.7, -2.6, -1.1, 0.1, 1.1, 2.1, 3.3, 4.6]
class_points = [dark_red, red, orange, yellow, green, cyan, sky, blue, navy]

# Draw order: mostly cool first so that warm specks sit over the blue clusters
draw_order = [5, 6, 4, 7, 8, 3, 2, 1, 0]
lons, lats, vels = [], [], []
for i in draw_order:
    for lon, lat in class_points[i]:
        lons.append(lon)
        lats.append(lat)
        vels.append(class_values[i])


def jet(t):
    def ch(a):
        return int(round(255 * max(0.0, min(1.0, 1.5 - abs(4 * t - a)))))
    return f"rgb({ch(3)},{ch(2)},{ch(1)})"


levels = 64
jet_scale = []
for k in range(levels):
    # Reversed jet: dark red at the low end, dark blue at the high end
    c = jet(1 - (k + 0.5) / levels)
    jet_scale.append([k / levels, c])
    jet_scale.append([(k + 1) / levels, c])

text_col = "#404040"
fig = go.Figure()
fig.add_trace(go.Scatter(
    x=lons, y=lats, mode="markers", showlegend=False, hoverinfo="skip",
    marker=dict(
        size=7, color=vels, cmin=-5.1, cmax=4.9, colorscale=jet_scale,
        line=dict(width=0),
        colorbar=dict(
            thickness=63, thicknessmode="pixels", len=522, lenmode="pixels",
            x=0.9057, xref="container", xanchor="left", xpad=0,
            y=0.5, yref="paper", yanchor="middle", ypad=0,
            tickmode="array", tickvals=cbar_ticks, ticktext=[str(v) for v in cbar_ticks],
            ticks="inside", ticklen=5, tickwidth=1.5, tickcolor="#262626",
            outlinecolor="#262626", outlinewidth=2.5,
            tickfont=dict(family="DejaVu Sans", size=12, color=text_col),
        ),
    ),
))

fig.update_layout(
    width=1183, height=610, autosize=False,
    paper_bgcolor="#f0f0f0", plot_bgcolor="white",
    margin=dict(l=94, r=81, t=42, b=49, autoexpand=False),
    title=dict(text=title_text, x=0.5047, xref="container", xanchor="center",
               y=0.951, yanchor="middle",
               font=dict(family="DejaVu Sans", size=15, color="#262626")),
    font=dict(family="DejaVu Sans", color=text_col),
    xaxis=dict(range=[38.6, 38.95], tickmode="array", tickvals=x_ticks, ticktext=x_tick_labels,
               showgrid=True, gridcolor="#e0e0e0", gridwidth=2.5, zeroline=False,
               showline=True, linecolor="#262626", linewidth=2, ticks="inside", ticklen=5,
               tickcolor="#262626", tickfont=dict(size=13.5, color=text_col),
               title=dict(text=x_label, standoff=2, font=dict(size=15, color=text_col))),
    yaxis=dict(range=[8.8, 9.15], tickmode="array", tickvals=y_ticks, ticktext=y_tick_labels,
               showgrid=True, gridcolor="#e0e0e0", gridwidth=2.5, zeroline=False,
               showline=True, linecolor="#262626", linewidth=2, ticks="inside", ticklen=5,
               tickcolor="#262626", tickfont=dict(size=13.5, color=text_col),
               title=dict(text=y_label, standoff=7, font=dict(size=15, color=text_col))),
    annotations=[dict(text=cbar_label, xref="paper", yref="paper", x=1.0, y=-0.0255,
                      xanchor="center", yanchor="middle", showarrow=False,
                      font=dict(family="DejaVu Sans", size=13.5, color=text_col))],
    shapes=[
        dict(type="rect", xref="paper", yref="paper", x0=-0.1, x1=1.1, y0=1.0597, y1=1.2,
             fillcolor="white", line=dict(width=0), layer="below"),
        dict(type="rect", xref="paper", yref="paper", x0=-0.1, x1=-0.0843, y0=-0.2, y1=1.2,
             fillcolor="white", line=dict(width=0), layer="below"),
    ],
)
fig.write_html("out.html", config={"displayModeBar": False},
               post_script="document.body.style.margin='0';")
